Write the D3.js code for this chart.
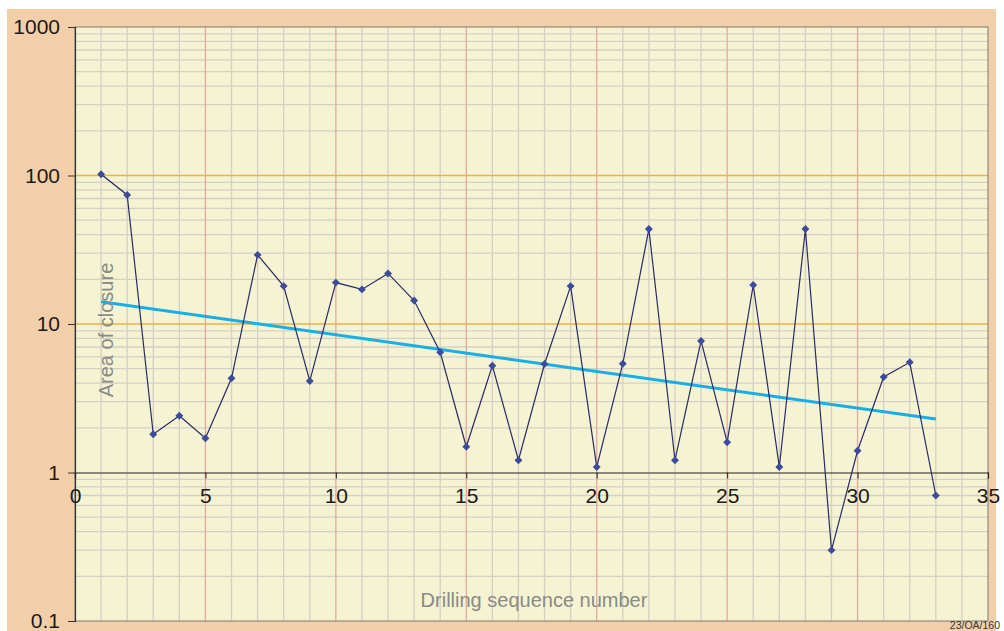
<!DOCTYPE html>
<html>
<head>
<meta charset="utf-8">
<script src="https://cdn.jsdelivr.net/npm/d3@7"></script>
<style>
  html, body { margin: 0; padding: 0; background: #ffffff; }
  svg { display: block; font-family: "Liberation Sans", Arial, sans-serif; }
</style>
</head>
<body>
<svg id="chart" width="1004" height="631"></svg>
<script>
// ---- data ----
const drillNumbers = [1,2,3,4,5,6,7,8,9,10,11,12,13,14,15,16,17,18,19,20,21,22,23,24,25,26,27,28,29,30,31,32,33];
const closureArea  = [102,74,1.81,2.41,1.70,4.31,29.2,18.0,4.13,19.0,17.1,21.9,14.4,6.45,1.49,5.24,1.21,5.38,18.0,1.09,5.40,43.6,1.21,7.69,1.60,18.3,1.09,43.6,0.30,1.40,4.40,5.52,0.70];
const trendX = [1, 33];
const trendY = [14.1, 2.29];
const xTicks = [0,5,10,15,20,25,30,35];
const yTicks = [0.1,1,10,100,1000];
const yTickLabels = ["0.1","1","10","100","1000"];
const xTitle = "Drilling sequence number";
const yTitle = "Area of closure";
const figureCode = "23/OA/160";

// ---- layout ----
const svg = d3.select("#chart");
const L = 75, R = 988, T = 27, B = 621;
const x = d3.scaleLinear().domain([0, 35]).range([L, R]);
const y = d3.scaleLog().domain([0.1, 1000]).range([B, T]);

// outer peach frame
svg.append("rect").attr("x", 7).attr("y", 9).attr("width", 989).attr("height", 622).attr("fill", "#f3cfa9");
// plot background
svg.append("rect").attr("x", L).attr("y", T).attr("width", R - L).attr("height", B - T).attr("fill", "#f5f3d2");

const g = svg.append("g");

// minor horizontal grid (log minor)
const minorY = [];
[0.1, 1, 10, 100].forEach(d => { for (let k = 2; k <= 9; k++) minorY.push(d * k); });
g.selectAll(".hminor").data(minorY).enter().append("line")
  .attr("x1", L).attr("x2", R)
  .attr("y1", d => y(d)).attr("y2", d => y(d))
  .attr("stroke", "#d3d0c6").attr("stroke-width", 1.3);

// vertical grid
const vGrid = d3.range(1, 35);
g.selectAll(".vgrid").data(vGrid).enter().append("line")
  .attr("x1", d => x(d)).attr("x2", d => x(d))
  .attr("y1", T).attr("y2", B)
  .attr("stroke", d => d % 5 === 0 ? "#e2a9a0" : "#d3d0c6")
  .attr("stroke-width", 1.3);

// major horizontal lines (10, 100)
g.selectAll(".hmajor").data([10, 100]).enter().append("line")
  .attr("x1", L).attr("x2", R)
  .attr("y1", d => y(d)).attr("y2", d => y(d))
  .attr("stroke", "#e9b24a").attr("stroke-width", 1.3);

// plot border
svg.append("rect").attr("x", L).attr("y", T).attr("width", R - L).attr("height", B - T)
  .attr("fill", "none").attr("stroke", "#7a7a72").attr("stroke-width", 1);

// y axis
const yAxis = d3.axisLeft(y).tickValues(yTicks).tickFormat((d, i) => yTickLabels[i]).tickSize(7).tickPadding(8);
const yg = svg.append("g").attr("transform", `translate(${L},0)`).call(yAxis);
yg.select(".domain").attr("stroke", "#333").attr("stroke-width", 1.2);
yg.selectAll(".tick line").attr("stroke", "#333");
yg.selectAll("text").attr("font-size", 21).attr("fill", "#1a1a1a");

// x axis at y = 1
const xAxis = d3.axisBottom(x).tickValues(xTicks).tickFormat(d3.format("d")).tickSize(6).tickSizeOuter(6).tickPadding(10);
const xg = svg.append("g").attr("transform", `translate(0,${y(1)})`).call(xAxis);
xg.select(".domain").attr("stroke", "#222").attr("stroke-width", 1.2);
xg.selectAll(".tick line").attr("stroke", "#222");
xg.selectAll("text").attr("font-size", 21).attr("fill", "#1a1a1a");

// trend line
const trend = trendX.map((d, i) => [d, trendY[i]]);
svg.append("path").datum(trend)
  .attr("d", d3.line().x(d => x(d[0])).y(d => y(d[1])))
  .attr("fill", "none").attr("stroke", "#1aaee6").attr("stroke-width", 3);

// data series
const pts = drillNumbers.map((d, i) => [d, closureArea[i]]);
svg.append("path").datum(pts)
  .attr("d", d3.line().x(d => x(d[0])).y(d => y(d[1])))
  .attr("fill", "none").attr("stroke", "#2a2a64").attr("stroke-width", 1.2);

svg.selectAll(".pt").data(pts).enter().append("path")
  .attr("transform", d => `translate(${x(d[0])},${y(d[1])})`)
  .attr("d", d3.symbol().type(d3.symbolDiamond2).size(40))
  .attr("fill", "#3c4c9c");

// axis titles
svg.append("text").attr("x", 534).attr("y", 607).attr("text-anchor", "middle")
  .attr("font-size", 20).attr("fill", "#8a8a86").text(xTitle);
svg.append("text").attr("transform", "translate(113,330) rotate(-90)").attr("text-anchor", "middle")
  .attr("font-size", 20).attr("fill", "#8a8a86").text(yTitle);

// figure code
svg.append("text").attr("x", 1000).attr("y", 629).attr("text-anchor", "end")
  .attr("font-size", 10.5).attr("fill", "#333").text(figureCode);
</script>
</body>
</html>
